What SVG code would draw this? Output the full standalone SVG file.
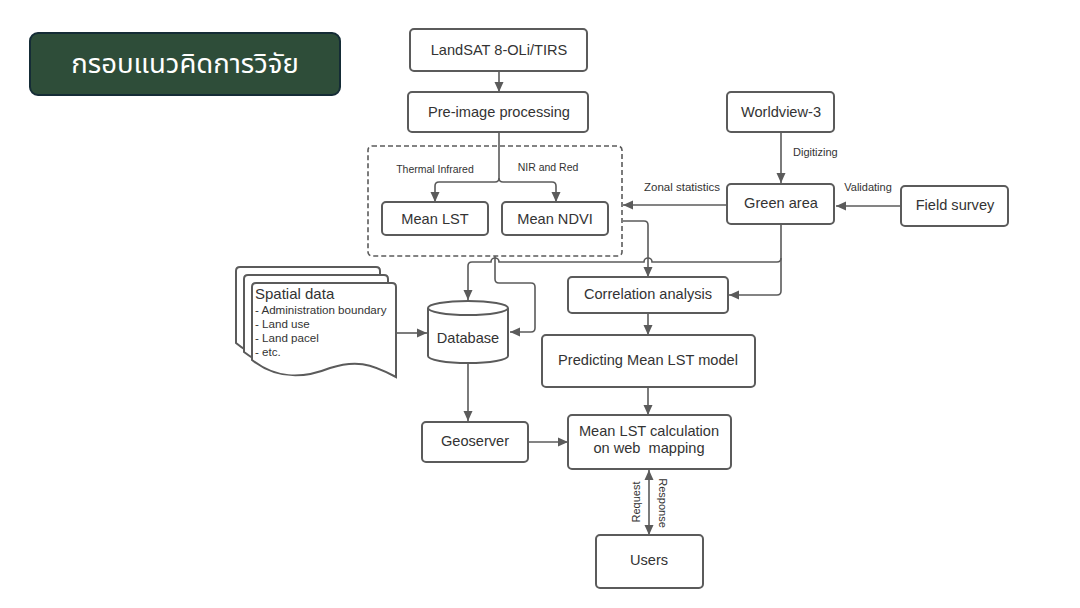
<svg xmlns="http://www.w3.org/2000/svg" width="1080" height="608" viewBox="0 0 1080 608">
<defs>
<marker id="ah" markerUnits="userSpaceOnUse" markerWidth="11" markerHeight="10" refX="10" refY="5" orient="auto-start-reverse" viewBox="0 0 11 10">
<path d="M0,0.5 L10,5 L0,9.5 z" fill="#5b5b5b"/>
</marker>
<style>
.box{fill:#fff;stroke:#5b5b5b;stroke-width:2}
.lbl{font-family:"Liberation Sans",Arial,sans-serif;fill:#333;text-anchor:middle}
.n{font-size:14.6px}
.s{font-size:10.5px}
.c{fill:none;stroke:#5b5b5b;stroke-width:1.6}
.a{marker-end:url(#ah)}
.l{text-anchor:start}
</style>
</defs>
<rect width="1080" height="608" fill="#fff"/>

<g id="title">
<rect x="30" y="33" width="310" height="62" rx="8" fill="#2e4d39" stroke="#152c36" stroke-width="2"/>
<text x="185" y="73" font-family="'Noto Sans','Noto Sans Thai',sans-serif" font-size="27.5" fill="#fff" text-anchor="middle">กรอบแนวคิดการวิจัย</text>
</g>

<g id="connectors">
<path class="c a" d="M499,71 V92"/>
<path class="c a" d="M499,132 V178 Q499,182 495,182 H439 Q435,182 435,186 V202"/>
<path class="c a" d="M499,178 Q499,182 503,182 H552 Q556,182 556,186 V202"/>
<path class="c a" d="M781,132 V183"/>
<path class="c a" d="M727,205 H623"/>
<path class="c a" d="M901,206 H836"/>
<path class="c a" d="M781,225 V291 Q781,295 777,295 H729"/>
<path class="c a" d="M781,258 Q781,262 777,262 H652 A4,4 0 0 0 644,262 H499 A4,4 0 0 0 491,262 H472 Q468,262 468,266 V300"/>
<path class="c a" d="M623,221 H644 Q648,221 648,225 V277"/>
<path class="c a" d="M495,256 V279 Q495,283 499,283 H531 Q535,283 535,287 V328 Q535,332 531,332 H510"/>
<path class="c a" d="M396,333 H427"/>
<path class="c a" d="M468,364 V421"/>
<path class="c a" d="M528,442 H568"/>
<path class="c a" d="M648,313 V335"/>
<path class="c a" d="M648,387 V415"/>
<path class="c a" d="M649,470 V535" marker-start="url(#ah)"/>
<text class="lbl s" x="435" y="173">Thermal Infrared</text>
<text class="lbl s" x="548" y="171">NIR and Red</text>
<text class="lbl l" font-size="11" x="793" y="156">Digitizing</text>
<text class="lbl" font-size="11.5" x="682" y="191">Zonal statistics</text>
<text class="lbl" font-size="11" x="868" y="191">Validating</text>
<text class="lbl" font-size="11" transform="translate(640,502) rotate(-90)">Request</text>
<text class="lbl" font-size="11" transform="translate(659,503) rotate(90)">Response</text>
</g>

<g id="landsat">
<rect class="box" x="410" y="29" width="177" height="42" rx="4"/>
<text class="lbl n" x="499" y="55">LandSAT 8-OLi/TIRS</text>
</g>
<g id="preimage">
<rect class="box" x="408" y="92" width="180" height="40" rx="4"/>
<text class="lbl n" x="499" y="117">Pre-image processing</text>
</g>
<g id="group">
<rect x="368" y="146" width="254" height="110" rx="4" fill="none" stroke="#5b5b5b" stroke-width="1.6" stroke-dasharray="5,3"/>
</g>
<g id="meanlst">
<rect class="box" x="382" y="202" width="106" height="33" rx="4"/>
<text class="lbl n" x="435" y="224">Mean LST</text>
</g>
<g id="meanndvi">
<rect class="box" x="502" y="202" width="106" height="33" rx="4"/>
<text class="lbl n" x="555" y="224">Mean NDVI</text>
</g>
<g id="worldview">
<rect class="box" x="727" y="92" width="107" height="40" rx="4"/>
<text class="lbl n" x="781" y="117">Worldview-3</text>
</g>
<g id="greenarea">
<rect class="box" x="727" y="184" width="107" height="40" rx="4"/>
<text class="lbl n" x="781" y="208">Green area</text>
</g>
<g id="fieldsurvey">
<rect class="box" x="901" y="186" width="107" height="40" rx="4"/>
<text class="lbl n" x="955" y="210">Field survey</text>
</g>
<g id="spatial">
<path class="box" d="M236,343 V271 Q236,267 240,267 H376 Q380,267 380,271 V361 C354,347 339,344 314,352 C284,364 259,362 236,343 Z"/>
<path class="box" d="M244,352 V279 Q244,275 248,275 H384 Q388,275 388,279 V369 C362,355 347,352 322,360 C292,372 267,370 244,352 Z"/>
<path class="box" d="M252,360 V287 Q252,283 256,283 H392 Q396,283 396,287 V377 C370,363 355,360 330,368 C300,380 275,378 252,360 Z"/>
<text class="lbl l" font-size="15" x="255" y="299">Spatial data</text>
<text class="lbl l" font-size="11.6" x="255" y="314">- Administration boundary</text>
<text class="lbl l" font-size="11.6" x="255" y="328">- Land use</text>
<text class="lbl l" font-size="11.6" x="255" y="342">- Land pacel</text>
<text class="lbl l" font-size="11.6" x="255" y="356">- etc.</text>
</g>
<g id="database">
<path class="box" d="M428,308 V356 A40,7 0 0 0 508,356 V308"/>
<ellipse class="box" cx="468" cy="308" rx="40" ry="7"/>
<text class="lbl n" x="468" y="343">Database</text>
</g>
<g id="correlation">
<rect class="box" x="568" y="277" width="160" height="36" rx="4"/>
<text class="lbl n" x="648" y="299">Correlation analysis</text>
</g>
<g id="predicting">
<rect class="box" x="542" y="335" width="213" height="52" rx="4"/>
<text class="lbl n" x="648" y="365">Predicting Mean LST model</text>
</g>
<g id="geoserver">
<rect class="box" x="422" y="422" width="106" height="40" rx="4"/>
<text class="lbl n" x="475" y="446">Geoserver</text>
</g>
<g id="calc">
<rect class="box" x="568" y="415" width="163" height="54" rx="4"/>
<text class="lbl n" x="649" y="436">Mean LST calculation</text>
<text class="lbl n" x="649" y="453" style="white-space:pre">on web  mapping</text>
</g>
<g id="users">
<rect class="box" x="596" y="535" width="107" height="53" rx="4"/>
<text class="lbl n" x="649" y="565">Users</text>
</g>
</svg>
